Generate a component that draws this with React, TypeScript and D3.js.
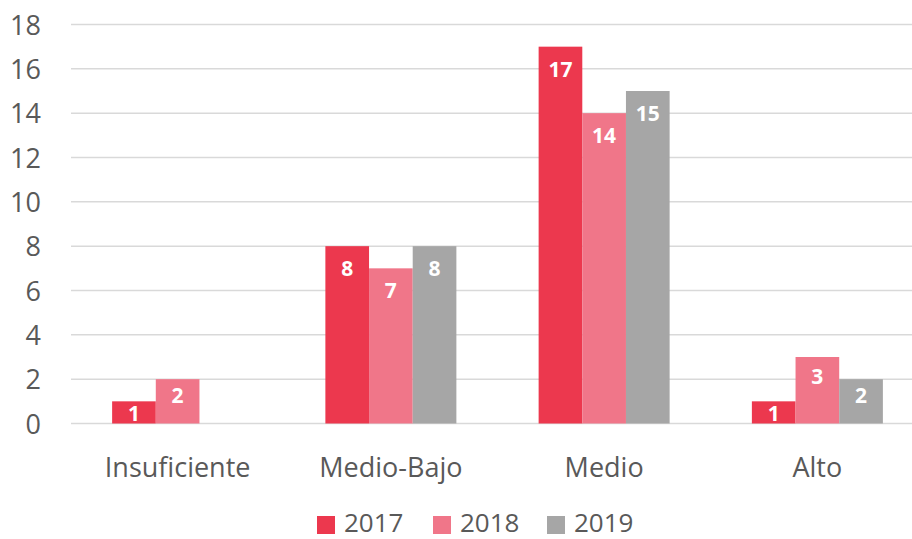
import React from "react";
import * as d3 from "d3";

const categories = ["Insuficiente", "Medio-Bajo", "Medio", "Alto"];
const seriesNames = ["2017", "2018", "2019"];
const values2017 = [1, 8, 17, 1];
const values2018 = [2, 7, 14, 3];
const values2019 = [null, 8, 15, 2];
const yTicks = [0, 2, 4, 6, 8, 10, 12, 14, 16, 18];
const colors = ["#EC384E", "#F07689", "#A6A6A6"];

const W = 912;
const H = 539;
const FONT = "'Open Sans', 'Liberation Sans', sans-serif";

export default function App() {
  const series = [values2017, values2018, values2019];
  const x = d3.scaleBand<string>().domain(categories).range([71, 924]).paddingInner(0.3857).paddingOuter(0.3857 / 2);
  const xs = d3.scaleBand<string>().domain(seriesNames).range([0, x.bandwidth()]);
  const y = d3.scaleLinear().domain([0, 18]).range([423.5, 24.5]);

  return (
    <svg width={W} height={H} style={{ position: "absolute", left: 0, top: 0, background: "#fff" }}>
      <rect x={0} y={0} width={W} height={H} fill="#fff" />
      {yTicks.map((t) => (
        <g key={t}>
          <line x1={71} x2={W} y1={y(t)} y2={y(t)} stroke="#D9D9D9" strokeWidth={1.5} />
          <text x={41} y={y(t) + 10} textAnchor="end" fontFamily={FONT} fontSize={27} fill="#595959">
            {t}
          </text>
        </g>
      ))}
      {categories.map((c, ci) => (
        <g key={c}>
          {series.map((vals, si) => {
            const v = vals[ci];
            if (v == null) return null;
            const bx = (x(c) as number) + (xs(seriesNames[si]) as number);
            const top = y(v);
            const h = y(0) - top;
            const base = top + Math.min(30, 16 + h * 0.17);
            return (
              <g key={si}>
                <rect x={bx} y={top} width={xs.bandwidth()} height={h} fill={colors[si]} />
                <text
                  x={bx + xs.bandwidth() / 2}
                  y={base}
                  textAnchor="middle"
                  fontFamily={FONT}
                  fontWeight="bold"
                  fontSize={21}
                  fill="#fff"
                >
                  {v}
                </text>
              </g>
            );
          })}
          <text
            x={(x(c) as number) + x.bandwidth() / 2}
            y={477}
            textAnchor="middle"
            fontFamily={FONT}
            fontSize={27}
            fill="#595959"
          >
            {c}
          </text>
        </g>
      ))}
      {seriesNames.map((s, i) => {
        const lx = [317, 433, 547][i];
        return (
          <g key={s}>
            <rect x={lx} y={516} width={18} height={18} fill={colors[i]} />
            <text x={lx + 27} y={532} fontFamily={FONT} fontSize={26} fill="#595959">
              {s}
            </text>
          </g>
        );
      })}
    </svg>
  );
}
